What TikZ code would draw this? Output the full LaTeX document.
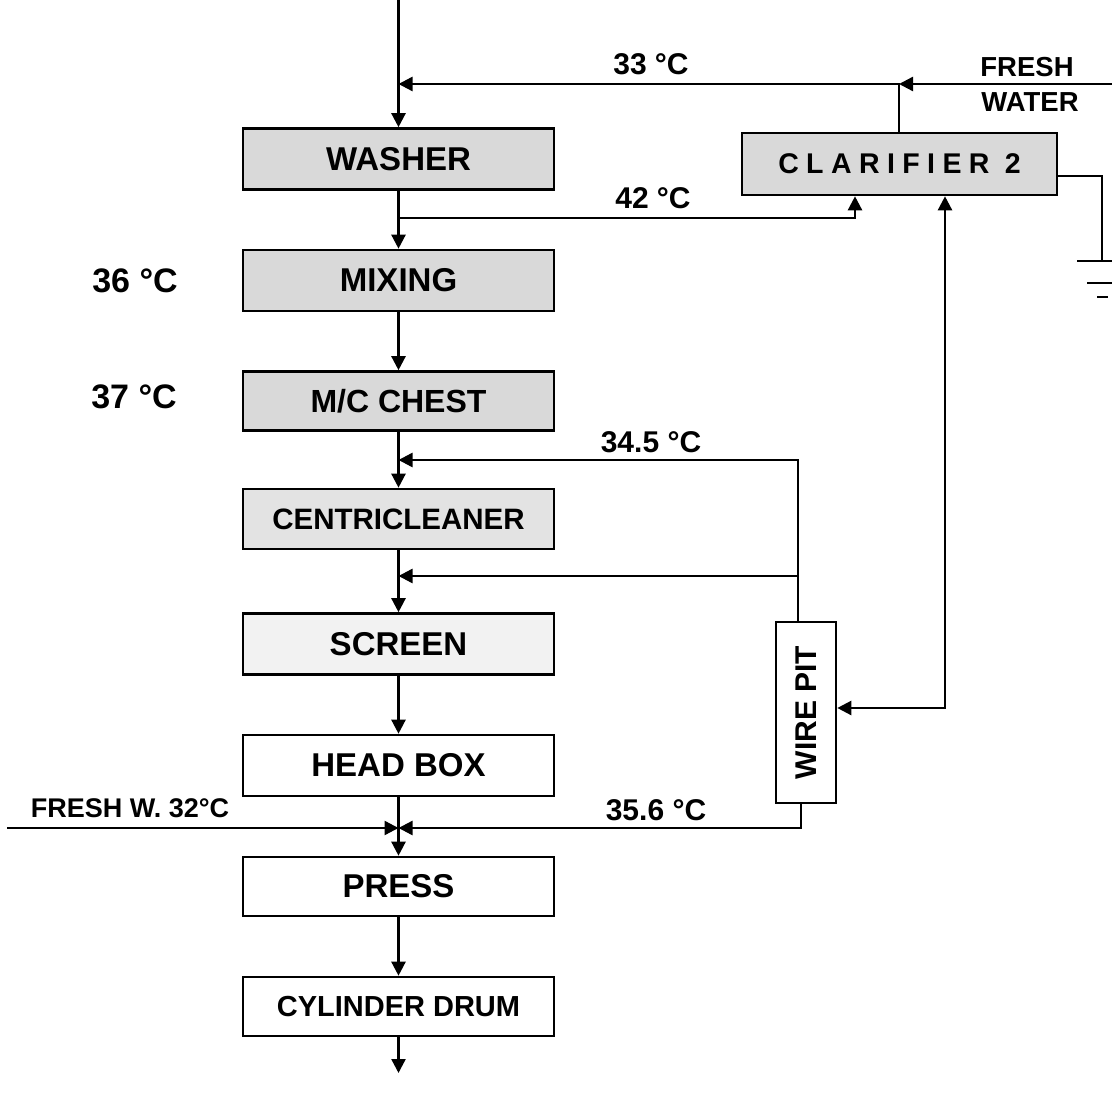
\documentclass[tikz,border=0pt]{standalone}
\usepackage{fontspec}
\setmainfont{Liberation Sans}
\usetikzlibrary{arrows.meta}
\begin{document}
\begin{tikzpicture}[x=1pt,y=-1pt,
  line width=2.4pt,
  arr/.style={-{Triangle[length=14pt,width=14pt]}},
  dbl/.style={{Triangle[length=14pt,width=14pt]}-{Triangle[length=14pt,width=14pt]}},
  box/.style={draw, line width=2.6pt, minimum width=311pt, minimum height=61pt, inner sep=0pt, font=\fontsize{33}{38}\bfseries},
  shadeA/.style={fill=black!15},
  lbl/.style={anchor=base, font=\fontsize{30}{35}\bfseries, inner sep=0pt},
  lblbig/.style={anchor=base, font=\fontsize{34}{40}\bfseries, inner sep=0pt},
  lblsm/.style={anchor=base, font=\fontsize{27.5}{32}\bfseries, inner sep=0pt},
]
\useasboundingbox[fill=white] (0,0) rectangle (1112,1102);

% process boxes
\node[box,shadeA] (washer) at (398.5,159) {WASHER};
\node[box,shadeA] (mixing) at (398.5,280.5) {MIXING};
\node[box,shadeA, minimum height=59pt, font=\fontsize{32}{36}\bfseries] (chest) at (398.5,401) {M/C CHEST};
\node[box,fill=black!11, minimum height=60pt, font=\fontsize{29.5}{34}\bfseries] (centri) at (398.5,519) {CENTRICLEANER};
\node[box,fill=black!5] (screen) at (398.5,644) {SCREEN};
\node[box] (headbox) at (398.5,765.5) {HEAD BOX};
\node[box, minimum height=59pt] (press) at (398.5,886.5) {PRESS};
\node[box, minimum height=59pt, font=\fontsize{29}{34}\bfseries] (cyl) at (398.5,1006.5) {CYLINDER DRUM};
\node[box, shadeA, minimum width=315pt, minimum height=62pt,
      font=\fontsize{28.5}{32}\bfseries\addfontfeatures{LetterSpace=26}] (clar) at (899.5,164) {CLARIFIER 2};
\node[draw, line width=2.6pt, minimum width=60pt, minimum height=181pt, inner sep=0pt] (wp) at (806,712.5) {};
\node[rotate=90, inner sep=0pt, font=\fontsize{30}{34}\bfseries] (wptext) at (wp.center) {WIRE PIT};

% named coordinates
\coordinate (top) at (398.5,0);
\coordinate (j33) at (398.5,84);
\coordinate (fwj) at (899,84);
\coordinate (fwin) at (1112,84);
\coordinate (j42) at (398.5,218);
\coordinate (j345) at (398.5,460);
\coordinate (jc) at (398.5,576);
\coordinate (jp) at (398.5,828);
\coordinate (fwL) at (7,828);
\coordinate (bot) at (398.5,1073);
\coordinate (wpT) at (798,622);
\coordinate (wpB) at (801,803);
\coordinate (g) at (1102,261);

% main flow
\draw[arr] (top) -- (washer);
\draw[arr] (washer) -- (mixing);
\draw[arr] (mixing) -- (chest);
\draw[arr] (chest) -- (centri);
\draw[arr] (centri) -- (screen);
\draw[arr] (screen) -- (headbox);
\draw[arr] (headbox) -- (press);
\draw[arr] (press) -- (cyl);
\draw[arr] (cyl) -- (bot);

% fresh water and clarifier return
\draw[arr] (fwin) -- (fwj);
\draw[arr] (clar.north -| fwj) -- (fwj) -- (j33);
\draw[arr] (j42) -| ([xshift=-44.5pt]clar.south);
\draw[dbl] ([xshift=45.5pt]clar.south) |- ([yshift=4.5pt]wp.east);

% wire pit returns
\draw[arr] (wpT) |- (j345);
\draw[arr] (wpT |- jc) -- (jc);
\draw[arr] (wpB) |- (jp);
\draw[arr] (fwL) -- (jp);

% ground
\draw ([yshift=-12pt]clar.east) -| (g);
\draw (1077,261) -- (1112,261);
\draw (1087,283) -- (1112,283);
\draw (1097,297) -- (1108,297);

% labels
\node[lbl] (l33) at (651,75) {33 °C};
\node[lblsm] (lfresh) at (1027,77) {FRESH};
\node[lblsm] (lwater) at (1030,112) {WATER};
\node[lbl] (l42) at (653,209) {42 °C};
\node[lblbig] (l36) at (135,293) {36 °C};
\node[lblbig] (l37) at (134,408) {37 °C};
\node[lbl] (l345) at (651,452) {34.5 °C};
\node[lbl] (l356) at (656,820) {35.6 °C};
\node[lblsm, font=\fontsize{27}{32}\bfseries] (lfw) at (130,817) {FRESH W. 32°C};
\end{tikzpicture}
\end{document}
